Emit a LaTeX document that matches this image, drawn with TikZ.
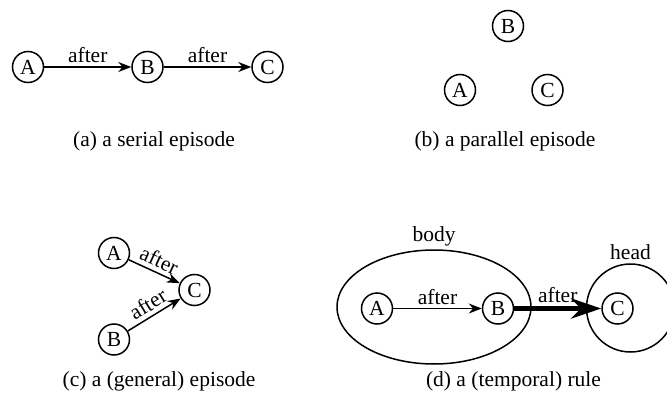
\documentclass[tikz,border=0pt]{standalone}
\usepackage{fontspec}
\setmainfont{Liberation Serif}
\usetikzlibrary{arrows.meta,shapes.geometric}

\tikzset{
  ev/.style={circle,draw,line width=1.5pt,minimum size=31pt,inner sep=0pt},
  arr/.style={-{Stealth[length=13pt,width=10pt]},line width=1.5pt},
  bigarr/.style={-{Stealth[length=30pt,width=20pt]},line width=5.5pt},
  subcap/.style={anchor=base}
}

\begin{document}
\begin{tikzpicture}[auto,x=1pt,y=1pt,font=\fontsize{21.5}{26}\selectfont]
      \useasboundingbox (0,0) rectangle (667,416);

      % (a) serial
      \node[ev] (sA) at (28, 349) {A};
      \node[ev] (sB) at (147.5, 349) {B};
      \node[ev] (sC) at (267.5, 349) {C};
      \draw[arr] (sA) to node{after} (sB);
      \draw[arr] (sB) to node{after} (sC);
      \node[subcap] (capa) at (154, 269.3) {(a) a serial episode};

      % (b) parallel
      \node[ev] (pA) at (460, 326) {A};
      \node[ev] (pB) at (508, 390) {B};
      \node[ev] (pC) at (547.5, 326) {C};
      \node[subcap] (capb) at (505, 269.3) {(b) a parallel episode};

      % (c) general
      \node[ev] (gA) at (114, 163) {A};
      \node[ev] (gB) at (114, 76.5) {B};
      \node[ev] (gC) at (194.5, 126) {C};
      \draw[arr] (gA) to node[sloped,inner sep=4pt]{after} (gC);
      \draw[arr] (gB) to node[sloped,inner sep=4pt]{after} (gC);
      \node[subcap] (capc) at (159, 29.3) {(c) a (general) episode};

      % (d) rule
      \node[ellipse,draw,line width=1.5pt,minimum width=194pt,minimum height=114pt,
            label=above:body] (body) at (434, 109) {};
      \node[circle,draw,line width=1.5pt,minimum size=88pt,
            label=above:head] (head) at (630.5, 108) {};
      \node[ev] (rA) at (377, 107.5) {A};
      \node[ev] (rB) at (498, 107.5) {B};
      \node[ev] (rC) at (617.5, 107.5) {C};
      \draw[arr] (rA) to node{after} (rB);
      \draw[bigarr] (rB) to node{after} (rC);
      \node[subcap] (capd) at (513.5, 29.3) {(d) a (temporal) rule};
\end{tikzpicture}
\end{document}
